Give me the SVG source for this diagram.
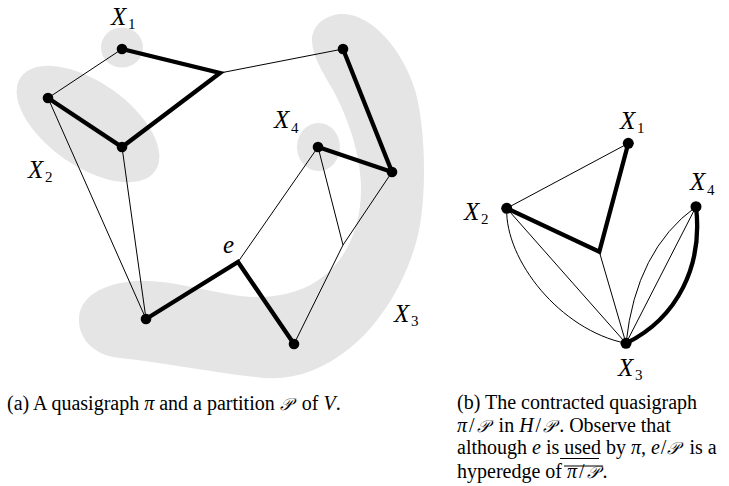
<svg xmlns="http://www.w3.org/2000/svg" width="729" height="486" viewBox="0 0 729 486">
<style>
.region{fill:#e5e5e5;stroke:none}
.thin{stroke:#000;stroke-width:1;fill:none}
.thick{stroke:#000;stroke-width:4.3;fill:none;stroke-linejoin:miter;stroke-linecap:butt}
.v{fill:#000}
.lbl{font-family:"Liberation Serif","DejaVu Serif",serif;font-style:italic;font-size:25px;fill:#000}
.sub{font-family:"Liberation Serif","DejaVu Serif",serif;font-style:normal;font-size:15px;fill:#000}
.cap{font-family:"Liberation Serif","DejaVu Serif","DejaVu Sans",serif;font-size:20px;fill:#000}
.m{font-style:italic}
.P{font-style:italic;font-size:17px}
.deco{stroke:#000;stroke-width:1}
</style>
<rect width="729" height="486" fill="#fff"/>
<!-- (a) partition regions -->
<g id="regions">
<ellipse id="region-X1" class="region" cx="122" cy="47.5" rx="21" ry="20"/>
<ellipse id="region-X2" class="region" cx="88" cy="124" rx="82" ry="42" transform="rotate(35 88 124)"/>
<ellipse id="region-X4" class="region" cx="318.5" cy="147" rx="21.5" ry="24"/>
<path id="region-X3" class="region" d="M345,14 C372,16 402,48 415,90 C426,128 426,190 420,225 C412,270 385,320 350,348 C320,372 290,382 255,377 C210,372 160,362 120,358 C90,355 78,335 79,318 C80,298 100,284 135,281 C165,279 200,290 240,296 C275,300 305,292 325,275 C350,255 362,220 361,185 C360,150 345,110 330,85 C318,65 312,52 312,40 C312,24 328,13 345,14 Z"/>
</g>
<!-- connectors -->
<g id="connectors">
<path class="thin" d="M122,49 L48,98"/>
<path class="thin" d="M220,73 L343,49"/>
<path class="thin" d="M48,98 L146,319"/>
<path class="thin" d="M122,147 L146,319"/>
<path class="thin" d="M238,262 L318,147"/>
<path class="thin" d="M318,147 L343,245"/>
<path class="thin" d="M392,172 L343,245"/>
<path class="thin" d="M343,245 L294,344"/>
<path class="thick" d="M122,49 L220,73 L122,147 L48,98"/>
<path class="thick" d="M343,49 L392,172 L318,147"/>
<path class="thick" d="M146,319 L238,262 L294,344"/>
<!-- (b) -->
<path class="thin" d="M506.7,208.3 L628.3,143.3"/>
<path class="thin" d="M599.3,251.7 L626,343.3"/>
<path class="thin" d="M506.7,208.3 L626,343.3"/>
<path class="thin" d="M506.7,208.3 C505,260 560,330 626,343.3"/>
<path class="thin" d="M696,206.7 L626,343.3"/>
<path class="thin" d="M696,206.7 Q636,250 626,343.3"/>
<path class="thick" d="M506.7,208.3 L599.3,251.7 L628.3,143.3"/>
<path class="thick" d="M696,206.7 C703,265 678,318 626,343.3"/>
</g>
<!-- (a) vertices -->
<g id="a-v1"><circle class="v" cx="122" cy="49" r="5.3"/></g>
<g id="a-v2"><circle class="v" cx="343" cy="49" r="5.3"/></g>
<g id="a-v3"><circle class="v" cx="48" cy="98" r="5.3"/></g>
<g id="a-v4"><circle class="v" cx="122" cy="147" r="5.3"/></g>
<g id="a-v5"><circle class="v" cx="318" cy="147" r="5.3"/></g>
<g id="a-v6"><circle class="v" cx="392" cy="172" r="5.3"/></g>
<g id="a-v7"><circle class="v" cx="146" cy="319" r="5.3"/></g>
<g id="a-v8"><circle class="v" cx="294" cy="344" r="5.3"/></g>
<!-- (a) labels -->
<g id="a-labels">
<text class="lbl" x="111" y="25">X</text><text class="sub" x="128" y="29">1</text>
<text class="lbl" x="28" y="178">X</text><text class="sub" x="45" y="182">2</text>
<text class="lbl" x="274" y="128">X</text><text class="sub" x="291" y="133">4</text>
<text class="lbl" x="394" y="322">X</text><text class="sub" x="411" y="326">3</text>
<text class="lbl" x="223" y="253">e</text>
</g>
<!-- (b) vertices -->
<g id="b-X1"><circle class="v" cx="628.3" cy="143.3" r="5.5"/><text class="lbl" x="620" y="129">X</text><text class="sub" x="637" y="133">1</text></g>
<g id="b-X2"><circle class="v" cx="506.7" cy="208.3" r="5.5"/><text class="lbl" x="464" y="220">X</text><text class="sub" x="481" y="224">2</text></g>
<g id="b-X4"><circle class="v" cx="696" cy="206.7" r="5.5"/><text class="lbl" x="690" y="190">X</text><text class="sub" x="707" y="195">4</text></g>
<g id="b-X3"><circle class="v" cx="626" cy="343.3" r="5.5"/><text class="lbl" x="618" y="376">X</text><text class="sub" x="635" y="380">3</text></g>
<!-- captions -->
<text class="cap" x="7" y="410">(a) A quasigraph <tspan class="m">π</tspan> and a partition <tspan class="P">𝒫</tspan><tspan dx="5"> of </tspan><tspan class="m">V</tspan>.</text>
<text class="cap" x="457" y="409">(b) The contracted quasigraph</text>
<text class="cap" x="457" y="431.5"><tspan class="m">π</tspan><tspan dx="2">/</tspan><tspan class="P" dx="2">𝒫</tspan><tspan dx="5"> in </tspan><tspan class="m">H</tspan><tspan dx="2">/</tspan><tspan class="P" dx="2">𝒫</tspan><tspan dx="4">. Observe that</tspan></text>
<text class="cap" x="457" y="454">although <tspan class="m">e</tspan> is used by <tspan class="m">π</tspan>, <tspan class="m">e</tspan><tspan dx="1">/</tspan><tspan class="P" dx="1">𝒫</tspan><tspan dx="5"> is a</tspan></text>
<text class="cap" x="457" y="478">hyperedge of <tspan class="m">π</tspan><tspan dx="2">/</tspan><tspan class="P" dx="2">𝒫</tspan><tspan dx="4">.</tspan></text>
<line class="deco" x1="560" y1="458.5" x2="599" y2="458.5"/>
<line class="deco" x1="564" y1="466" x2="603" y2="466"/>
</svg>
